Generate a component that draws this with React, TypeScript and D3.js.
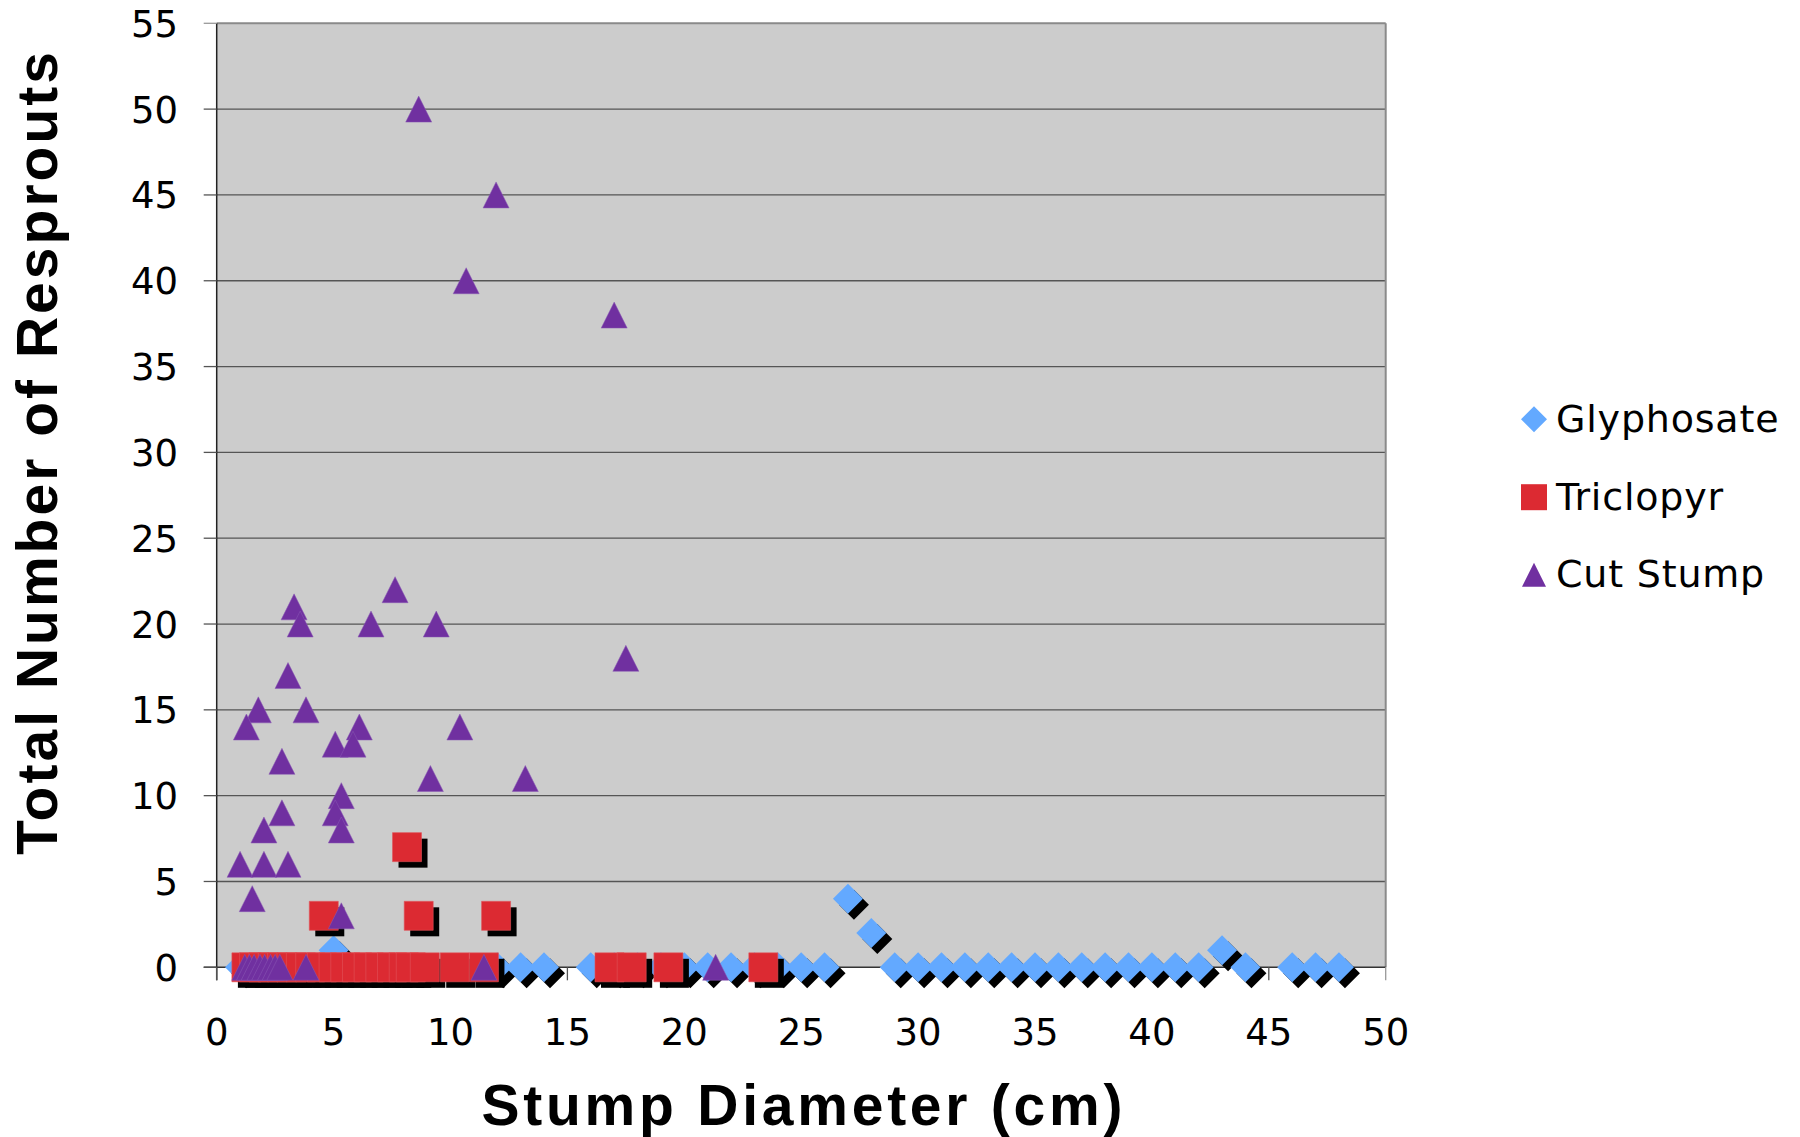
import React from "react";
import * as d3 from "d3";

const xTicks = [0, 5, 10, 15, 20, 25, 30, 35, 40, 45, 50];
const yTicks = [0, 5, 10, 15, 20, 25, 30, 35, 40, 45, 50, 55];

const seriesNames = ["Glyphosate", "Triclopyr", "Cut Stump"];

const glyphosateX = [1, 5, 12, 13, 14, 16, 17, 18, 19, 20, 21, 22, 23, 24, 25, 26, 27, 28, 29, 30, 31, 32, 33, 34, 35, 36, 37, 38, 39, 40, 41, 42, 43, 44, 46, 47, 48];
const glyphosateY = [0, 1, 0, 0, 0, 0, 0, 0, 0, 0, 0, 0, 0, 0, 0, 0, 4, 2, 0, 0, 0, 0, 0, 0, 0, 0, 0, 0, 0, 0, 0, 0, 1, 0, 0, 0, 0];

const triclopyrX = [1.27, 1.6, 2.0, 2.4, 2.8, 3.2, 3.6, 4.0, 4.5, 5.0, 5.5, 6.0, 6.5, 7.0, 7.5, 8.0, 8.3, 8.9, 10.18, 11.43, 4.58, 8.14, 8.64, 11.95, 16.8, 17.75, 19.32, 23.38];
const triclopyrY = [0, 0, 0, 0, 0, 0, 0, 0, 0, 0, 0, 0, 0, 0, 0, 0, 0, 0, 0, 0, 3, 7, 3, 3, 0, 0, 0, 0];

const cutStumpX = [8.64, 11.95, 10.67, 17.0, 17.5, 7.63, 3.31, 3.57, 6.6, 9.39, 3.05, 1.78, 3.82, 1.27, 6.1, 10.4, 5.07, 5.83, 2.79, 9.14, 13.2, 5.33, 5.07, 2.79, 2.02, 5.33, 1.0, 2.02, 3.05, 1.52, 5.33, 1.2, 1.4, 1.6, 1.85, 2.05, 2.3, 2.5, 2.7, 3.82, 11.43, 21.34];
const cutStumpY = [50, 45, 40, 38, 18, 22, 21, 20, 20, 20, 17, 15, 15, 14, 14, 14, 13, 13, 12, 11, 11, 10, 9, 9, 8, 8, 6, 6, 6, 4, 3, 0, 0, 0, 0, 0, 0, 0, 0, 0, 0, 0];

const BLUE = "#63a9ff";
const RED = "#dc2a32";
const PURPLE = "#7030a0";

const diamondPath = (cx: number, cy: number, r: number) =>
  `M${cx},${cy - r}L${cx + r},${cy}L${cx},${cy + r}L${cx - r},${cy}Z`;
const squarePath = (cx: number, cy: number, r: number) =>
  `M${cx - r},${cy - r}L${cx + r},${cy - r}L${cx + r},${cy + r}L${cx - r},${cy + r}Z`;
const trianglePath = (cx: number, cy: number, r: number) =>
  `M${cx},${cy - r}L${cx + r},${cy + r}L${cx - r},${cy + r}Z`;

export default function App() {
  const W = 1800;
  const H = 1137;
  const left = 216.7, right = 1385.7, top = 23.3, bottom = 967.3;
  const x = d3.scaleLinear().domain([0, 50]).range([left, right]);
  const y = d3.scaleLinear().domain([0, 55]).range([bottom, top]);
  const sd = 6;

  const glyph = glyphosateX.map((v, i) => [x(v), y(glyphosateY[i])]);
  const tric = triclopyrX.map((v, i) => [x(v), y(triclopyrY[i])]);
  const cut = cutStumpX.map((v, i) => [x(v), y(cutStumpY[i])]);

  const tickFont = "'DejaVu Sans', Verdana, sans-serif";
  const titleFont = "'Liberation Sans', Arial, Helvetica, sans-serif";

  const legendRows = [419.3, 497.2, 574.8];

  return (
    <svg width={W} height={H} style={{ position: "absolute", left: 0, top: 0, background: "#fff" }}>
      <rect x={0} y={0} width={W} height={H} fill="#ffffff" />
      <rect x={left} y={top} width={right - left} height={bottom - top} fill="#cccccc" />
      {yTicks.filter((t) => t > 0 && t < 55).map((t) => (
        <line key={"g" + t} x1={left} x2={right} y1={y(t)} y2={y(t)} stroke="#555" strokeWidth={1.3} />
      ))}
      {/* border top/right */}
      <line x1={left} x2={right} y1={top} y2={top} stroke="#8a8a8a" strokeWidth={2} />
      <line x1={right} x2={right} y1={top} y2={bottom} stroke="#8a8a8a" strokeWidth={2} />
      {/* axes */}
      <line x1={left} x2={left} y1={top} y2={bottom + 13} stroke="#222" strokeWidth={1.5} />
      <line x1={left - 13} x2={right} y1={bottom} y2={bottom} stroke="#333" strokeWidth={1.5} />
      {yTicks.map((t) => (
        <line key={"yt" + t} x1={left - 13} x2={left} y1={y(t)} y2={y(t)} stroke={t === 55 ? "#999" : "#555"} strokeWidth={1.3} />
      ))}
      {xTicks.map((t) => (
        <line key={"xt" + t} x1={x(t)} x2={x(t)} y1={bottom} y2={bottom + 13} stroke={t === 50 ? "#999" : "#555"} strokeWidth={1.3} />
      ))}
      {yTicks.map((t) => (
        <text key={"yl" + t} x={178} y={y(t) + 13.5} textAnchor="end" fontFamily={tickFont} fontSize={37} fill="#000">
          {t}
        </text>
      ))}
      {xTicks.map((t) => (
        <text key={"xl" + t} x={x(t)} y={1045} textAnchor="middle" fontFamily={tickFont} fontSize={37} fill="#000">
          {t}
        </text>
      ))}

      {/* Glyphosate */}
      {glyph.map(([cx, cy], i) => (
        <path key={"gs" + i} d={diamondPath(cx + sd, cy + sd, 15)} fill="#000" />
      ))}
      {glyph.map(([cx, cy], i) => (
        <path key={"gm" + i} d={diamondPath(cx, cy, 15)} fill={BLUE} />
      ))}
      {/* Triclopyr */}
      {tric.map(([cx, cy], i) => (
        <path key={"ts" + i} d={squarePath(cx + sd, cy + sd, 14.5)} fill="#000" />
      ))}
      {tric.map(([cx, cy], i) => (
        <path key={"tm" + i} d={squarePath(cx, cy, 14.5)} fill={RED} stroke="#e0545a" strokeWidth={0.6} />
      ))}
      {/* Cut Stump */}
      {cut.map(([cx, cy], i) => (
        <path key={"cm" + i} d={trianglePath(cx, cy, 13)} fill={PURPLE} stroke="#8a5ab5" strokeWidth={0.5} />
      ))}

      {/* Legend */}
      <path d={diamondPath(1534, legendRows[0], 13)} fill={BLUE} />
      <path d={squarePath(1534, legendRows[1], 13)} fill={RED} />
      <path d={trianglePath(1534, legendRows[2], 12)} fill={PURPLE} />
      {seriesNames.map((n, i) => (
        <text key={n} x={1556} y={legendRows[i] + 12.5} fontFamily={tickFont} fontSize={38} letterSpacing={0.8} fill="#000">
          {n}
        </text>
      ))}

      {/* Axis titles */}
      <text x={802} y={1125} textAnchor="middle" fontFamily={titleFont} fontWeight="bold" fontSize={57} textLength={641} lengthAdjust="spacing" fill="#000">
        Stump Diameter (cm)
      </text>
      <text transform="translate(57,453.5) rotate(-90)" textAnchor="middle" fontFamily={titleFont} fontWeight="bold" fontSize={57} textLength={803} lengthAdjust="spacing" fill="#000">
        Total Number of Resprouts
      </text>
    </svg>
  );
}
